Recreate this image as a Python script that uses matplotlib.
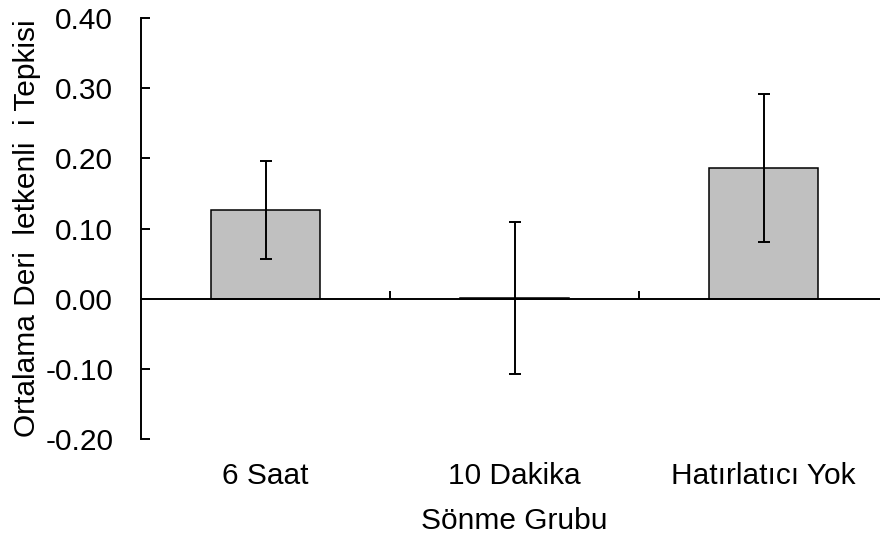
import matplotlib
matplotlib.use("Agg")
import matplotlib.pyplot as plt
import matplotlib.transforms as mtransforms

# mean skin conductance response per extinction group, with error bars
groups = ["6 Saat", "10 Dakika", "Hatırlatıcı Yok"]
means = [0.126, 0.001, 0.186]
errors = [0.070, 0.108, 0.105]
yticks = [-0.20, -0.10, 0.00, 0.10, 0.20, 0.30, 0.40]
ytick_labels = ["-0.20", "-0.10", "0.00", "0.10", "0.20", "0.30", "0.40"]

plt.rcParams["font.family"] = ["Liberation Sans", "DejaVu Sans"]
FS = 21.5

fig = plt.figure(figsize=(8.8, 5.37), dpi=100)
ax = fig.add_axes([141 / 880, 98 / 537, 747 / 880, 421 / 537])

xs = list(range(len(groups)))
ax.bar(xs, means, width=0.434, color="#c0c0c0", edgecolor="black",
       linewidth=1.1, zorder=2)
ax.errorbar(xs, means, yerr=errors, fmt="none", ecolor="black",
            elinewidth=1.4, capsize=4, capthick=1.4, zorder=3)

ax.set_xlim(-0.5, 2.5)
ax.set_ylim(-0.2, 0.4)

# axis line at zero, ticks between categories
ax.spines["top"].set_visible(False)
ax.spines["right"].set_visible(False)
ax.spines["bottom"].set_position(("data", 0))
ax.spines["left"].set_linewidth(1.4)
ax.spines["bottom"].set_linewidth(1.4)
ax.spines["bottom"].set_zorder(4)

ax.set_xticks([0.5, 1.5])
ax.set_xticklabels([])
ax.tick_params(axis="x", direction="in", length=5.5, width=1.4)

ax.set_yticks(yticks)
ax.set_yticklabels(ytick_labels, fontsize=FS)
ax.tick_params(axis="y", direction="in", length=6.5, width=1.4, pad=20)

# category names below the plot area
trans = mtransforms.blended_transform_factory(ax.transData, ax.transAxes)
for x, name in zip(xs, groups):
    ax.text(x, -0.088, name, transform=trans, ha="center", va="center",
            fontsize=FS)

fig.text(514 / 880, 1 - 521 / 537, "Sönme Grubu", ha="center", va="center",
         fontsize=FS)
fig.text(27 / 880, 1 - 228 / 537, "Ortalama Deri  letkenli  i Tepkisi",
         rotation=90, ha="center", va="center", fontsize=FS)

fig.savefig("out.png", dpi=100)
